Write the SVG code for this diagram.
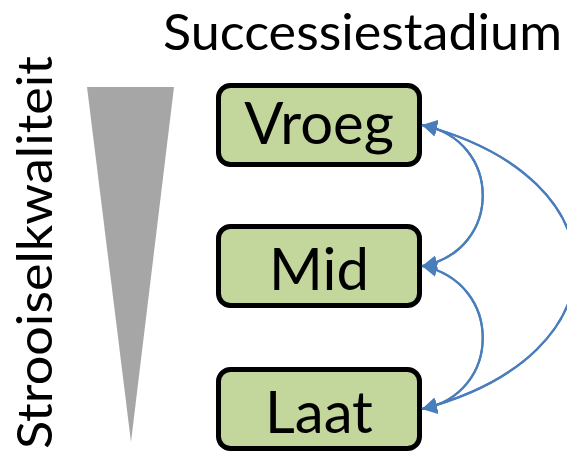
<svg xmlns="http://www.w3.org/2000/svg" width="567" height="453" viewBox="0 0 567 453">
  <defs>
    <style>
      text { font-family: Lato, "Liberation Sans", sans-serif; fill: #000; }
      .stage rect { fill: #c3d69b; stroke: #000; stroke-width: 5; }
      .stage text { font-size: 58px; text-anchor: middle; }
      .link { fill: none; stroke: #4a7ebb; stroke-width: 2.2; marker-end: url(#head); }
    </style>
    <marker id="head" markerUnits="userSpaceOnUse" markerWidth="16" markerHeight="16" refX="15" refY="8" orient="auto">
      <path d="M0,0 L15,8 L0,16 z" fill="#4a7ebb"/>
    </marker>
  </defs>

  <rect width="567" height="453" fill="#fff"/>

  <!-- axis labels -->
  <text id="title" x="163" y="50" font-size="50" textLength="399" lengthAdjust="spacingAndGlyphs">Successiestadium</text>
  <text id="quality" transform="translate(52,449) rotate(-90)" font-size="49" textLength="393" lengthAdjust="spacingAndGlyphs">Strooiselkwaliteit</text>

  <!-- decreasing litter quality wedge -->
  <polygon id="wedge" points="87,87 174,87 131,442" fill="#a6a6a6"/>

  <!-- succession stages -->
  <g id="vroeg" class="stage">
    <rect x="218.5" y="85.5" width="201" height="79" rx="12"/>
    <text x="319" y="144">Vroeg</text>
  </g>
  <g id="mid" class="stage">
    <rect x="218.5" y="226.5" width="201" height="79" rx="12"/>
    <text x="319" y="290">Mid</text>
  </g>
  <g id="laat" class="stage">
    <rect x="218.5" y="369.5" width="201" height="79" rx="12"/>
    <text x="319" y="433">Laat</text>
  </g>

  <!-- transitions between stages -->
  <g id="connectors">
    <path class="link" d="M422,266 C503,251 503,140 422,125"/>
    <path class="link" d="M422,125 C503,140 503,251 422,266"/>
    <path class="link" d="M422,266 C503,282 503,394 422,409"/>
    <path class="link" d="M422,409 C503,394 503,282 422,266"/>
    <path class="link" d="M422,409 C626,355 626,179 422,125"/>
    <path class="link" d="M422,125 C626,179 626,355 422,409"/>
  </g>
</svg>
